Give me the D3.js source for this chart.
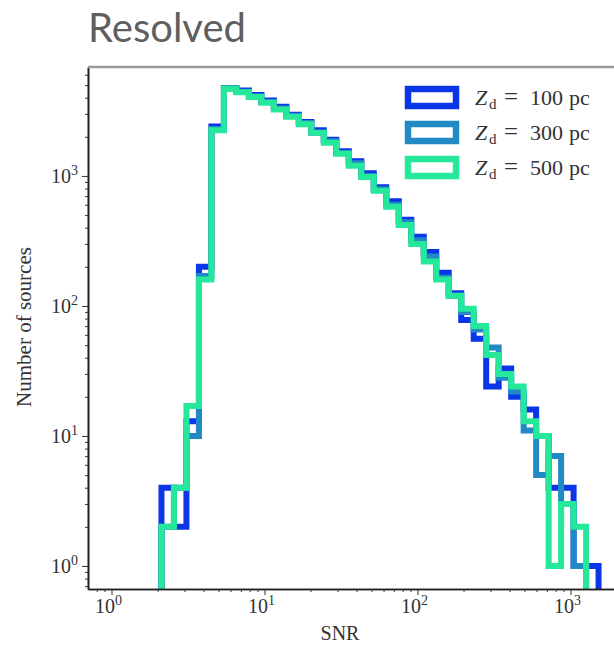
<!DOCTYPE html>
<html><head><meta charset="utf-8">
<script src="https://cdn.jsdelivr.net/npm/d3@7"></script>
<style>body{margin:0;background:#fff}svg{display:block}</style>
</head><body>
<svg id="c" width="614" height="647"></svg>
<script>
// Bin edges (SNR), logarithmic bins
const binEdges = [2.121,2.560,3.089,3.728,4.498,5.429,6.551,7.906,9.541,11.51,13.89,16.77,20.24,24.42,29.47,35.56,42.92,51.79,62.51,75.43,91.03,109.9,132.6,160.0,193.1,233.0,281.2,339.3,409.5,494.2,596.4,719.7,868.5,1048,1265,1526];
// Counts per bin
const counts100 = [4,2,13,200,2400,4750,4550,4200,3800,3400,2950,2600,2250,1900,1550,1300,1050,820,640,460,340,260,180,125,78,56,24,33,20,16,10,4,4,1,1];
const counts300 = [2,4,10,170,2300,4700,4450,4100,3700,3300,2900,2550,2150,1850,1500,1250,1000,790,600,440,320,240,165,120,90,66,48,28,22,11,5,7,3,1,0];
const counts500 = [2,4,17,160,2250,4700,4400,4050,3650,3250,2850,2500,2150,1800,1480,1200,980,770,580,420,300,220,160,120,95,70,42,30,24,13,10,1,3,2,0];
const seriesNames = ["100","300","500"];
const seriesColors = ["#0a36e8","#2189c4","#26e89a"];
const xTickVals = [1,10,100,1000];
const yTickVals = [1,10,100,1000];
const xLabel = "SNR", yLabel = "Number of sources", title = "Resolved";

const svg = d3.select("#c");
const L = 88, T = 67, B = 589, R = 630;
const x = d3.scaleLog().domain([Math.pow(10,-0.1536), Math.pow(10,3.389)]).range([L, R]);
const y = d3.scaleLog().domain([Math.pow(10,-0.177), Math.pow(10,3.838)]).range([B, T]);

svg.append("text").attr("x", 88).attr("y", 42).attr("font-family","Lato").attr("font-size", 40)
  .attr("fill","#5f5f5f").text(title);

svg.append("defs").append("clipPath").attr("id","clip").append("rect")
  .attr("x", L).attr("y", T).attr("width", R-L).attr("height", B-T);

const allSeries = [counts100, counts300, counts500];
const g = svg.append("g").attr("clip-path","url(#clip)");
allSeries.forEach((vals, si) => {
  const pts = [[x(binEdges[0]), B + 20]];
  vals.forEach((v, i) => {
    const yy = v > 0 ? y(v) : B + 20;
    pts.push([x(binEdges[i]), yy]);
    pts.push([x(binEdges[i+1]), yy]);
  });
  pts.push([x(binEdges[binEdges.length-1]), B + 20]);
  g.append("path").attr("d", d3.line()(pts)).attr("fill","none")
    .attr("stroke", seriesColors[si]).attr("stroke-width", 6).attr("stroke-linejoin","miter");
});

// axes
const serif = "Liberation Serif";
function minorTicks(domain){
  const out=[]; for(let e=-1;e<=4;e++) for(let m=2;m<=9;m++){const v=m*Math.pow(10,e); if(v>=domain[0]&&v<=domain[1]) out.push(v);} return out;
}
const ax = svg.append("g").attr("transform",`translate(0,${B})`);
ax.call(d3.axisBottom(x).tickValues(xTickVals).tickFormat("").tickSize(6).tickSizeOuter(0));
ax.append("g").call(d3.axisBottom(x).tickValues(minorTicks(x.domain())).tickFormat("").tickSize(3).tickSizeOuter(0));
ax.selectAll(".domain").attr("stroke","#222").attr("stroke-width",1.6);
ax.selectAll(".tick line").attr("stroke","#333");
xTickVals.forEach(v => {
  const t = svg.append("text").attr("x", x(v)-3).attr("y", 613).attr("text-anchor","middle")
    .attr("font-family", serif).attr("font-size", 20).attr("fill","#333");
  t.append("tspan").text("10");
  t.append("tspan").attr("dy",-8).attr("font-size",14).text(Math.round(Math.log10(v)));
});
const ay = svg.append("g").attr("transform",`translate(${L},0)`);
ay.call(d3.axisLeft(y).tickValues(yTickVals).tickFormat("").tickSize(6).tickSizeOuter(0));
ay.append("g").call(d3.axisLeft(y).tickValues(minorTicks(y.domain())).tickFormat("").tickSize(3).tickSizeOuter(0));
ay.selectAll(".domain").attr("stroke","#222").attr("stroke-width",1.6);
ay.selectAll(".tick line").attr("stroke","#333");
yTickVals.forEach(v => {
  const t = svg.append("text").attr("x", 78).attr("y", y(v)+7).attr("text-anchor","end")
    .attr("font-family", serif).attr("font-size", 20).attr("fill","#333");
  t.append("tspan").text("10");
  t.append("tspan").attr("dy",-8).attr("font-size",14).text(Math.round(Math.log10(v)));
});
svg.append("line").attr("x1",L).attr("x2",614).attr("y1",T).attr("y2",T).attr("stroke","#999").attr("stroke-width",2.5);

svg.append("text").attr("x", 340).attr("y", 640).attr("text-anchor","middle")
  .attr("font-family", serif).attr("font-size", 20).attr("fill","#333").text(xLabel);
svg.append("text").attr("transform","translate(31,327) rotate(-90)").attr("text-anchor","middle")
  .attr("font-family", serif).attr("font-size", 21).attr("fill","#333").text(yLabel);

// legend
seriesNames.forEach((n, i) => {
  const cy = 97.5 + i*35;
  svg.append("rect").attr("x", 408).attr("y", cy-8.5).attr("width", 48).attr("height", 17)
    .attr("fill","none").attr("stroke", seriesColors[i]).attr("stroke-width", 6.5);
  const t = svg.append("text").attr("y", cy+7).attr("font-family", serif)
    .attr("font-size", 22).attr("fill","#333");
  t.append("tspan").attr("x", 475).attr("font-style","italic").text("Z");
  t.append("tspan").attr("x", 489).attr("dy",4).attr("font-size",15).text("d");
  t.append("tspan").attr("x", 504).attr("dy",-4).attr("font-size",25).text("=");
  t.append("tspan").attr("x", 530).attr("font-size",22).text(n);
  t.append("tspan").attr("x", 569).text("pc");
});
</script>
</body></html>
